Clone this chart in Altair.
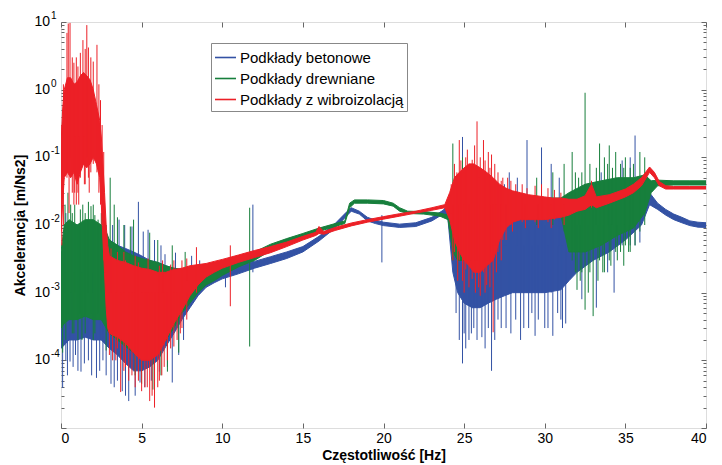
import altair as alt
import pandas as pd

FONT = "Liberation Sans"
NAMES = ["Podkłady betonowe", "Podkłady drewniane", "Podkłady z wibroizolacją"]
COLORS = ["#3352a4", "#177f3c", "#ec2027"]

# ---- dense noise bands: frequency [Hz], lower / upper envelope ----
blue_f = [0.0, 0.5, 1.0, 1.5, 2.0, 2.5, 3.0, 3.5, 4.0, 4.5, 5.0, 5.5, 6.0, 6.5, 7.0, 7.5, 8.0, 8.5,
          9.0, 9.5, 10.0, 11.0, 12.0, 13.0, 14.0, 15.0, 16.0, 17.0, 17.7, 18.0, 18.5, 19.0, 19.5,
          20.0, 21.0, 22.0, 23.0, 23.7, 24.0, 24.3, 24.6, 25.0, 25.5, 26.0, 26.5, 27.0, 27.5, 28.0,
          29.0, 30.0, 31.0, 31.5, 32.0, 33.0, 34.0, 35.0, 36.0, 36.5, 37.0, 37.5, 38.0, 38.5, 39.0,
          39.5, 40.0]
blue_lo = [1.5e-4, 2e-4, 2e-4, 2.2e-4, 2e-4, 2e-4, 1.5e-4, 1.2e-4, 9e-5, 7e-5, 7e-5, 8e-5, 1e-4,
           1.6e-4, 2.5e-4, 4e-4, 6e-4, 9e-4, 1.2e-3, 1.4e-3, 1.6e-3, 1.9e-3, 2.3e-3, 2.7e-3, 3.2e-3,
           4e-3, 5.8e-3, 9e-3, 0.0135, 0.016, 0.0145, 0.0115, 0.0105, 0.0098, 0.0092, 0.0095, 0.0115,
           0.0145, 0.012, 0.002, 1e-3, 7e-4, 6e-4, 6e-4, 7e-4, 8e-4, 9e-4, 1e-3, 1e-3, 1e-3, 1.1e-3,
           1.5e-3, 2e-3, 3e-3, 4e-3, 6e-3, 0.01, 0.02, 0.017, 0.014, 0.012, 0.0108, 0.0098, 0.0093,
           0.0092]
blue_hi = [3e-3, 0.01, 0.01, 0.01, 0.01, 8e-3, 6e-3, 5e-3, 4.5e-3, 4e-3, 3.5e-3, 3e-3, 2.8e-3,
           2.5e-3, 2.3e-3, 2.2e-3, 2.1e-3, 2.1e-3, 2.1e-3, 2.2e-3, 2.3e-3, 2.6e-3, 2.9e-3, 3.4e-3,
           4e-3, 4.8e-3, 6.8e-3, 0.0105, 0.0155, 0.018, 0.016, 0.013, 0.0118, 0.011, 0.0103, 0.0108,
           0.013, 0.0165, 0.02, 0.03, 0.03, 0.03, 0.025, 0.02, 0.02, 0.018, 0.016, 0.015, 0.015,
           0.015, 0.015, 0.016, 0.02, 0.025, 0.03, 0.035, 0.035, 0.03, 0.021, 0.017, 0.0145, 0.013,
           0.0115, 0.011, 0.0108]

green_f = [0.0, 0.2, 0.5, 1.0, 1.5, 2.0, 2.5, 2.8, 3.0, 3.5, 4.0, 4.5, 5.0, 5.5, 6.0, 6.5, 7.0, 7.5,
           8.0, 8.5, 9.0, 9.5, 10.0, 11.0, 12.0, 13.0, 14.0, 15.0, 16.0, 17.0, 17.6, 17.9, 18.2,
           19.0, 20.0, 20.6, 21.0, 21.5, 22.5, 23.5, 24.0, 24.3, 24.6, 25.0, 25.4, 26.0, 27.0, 28.0,
           29.0, 30.0, 31.0, 31.5, 32.5, 33.5, 34.5, 35.5, 36.2, 36.6, 37.0, 38.0, 39.0, 40.0]
green_lo = [3e-4, 3.5e-4, 4e-4, 4e-4, 4.5e-4, 4e-4, 4e-4, 3e-4, 2.5e-4, 2e-4, 1.6e-4, 1.3e-4,
            1.1e-4, 1.1e-4, 1.4e-4, 2e-4, 3e-4, 5e-4, 7e-4, 1e-3, 1.3e-3, 1.5e-3, 1.8e-3, 2.4e-3,
            3e-3, 4.2e-3, 5.2e-3, 6.5e-3, 8e-3, 9.5e-3, 0.0105, 0.018, 0.021, 0.021, 0.0205, 0.019,
            0.016, 0.0148, 0.0145, 0.0135, 0.012, 0.004, 0.003, 0.003, 0.01, 0.014, 0.014, 0.014,
            0.014, 0.014, 0.014, 0.004, 0.004, 0.005, 0.007, 0.009, 0.015, 0.03, 0.038, 0.039,
            0.039, 0.039]
green_hi = [4e-3, 0.01, 0.012, 0.01, 0.012, 0.012, 0.01, 8e-3, 6e-3, 5e-3, 4e-3, 3.5e-3, 3.2e-3,
            3e-3, 2.8e-3, 2.5e-3, 2.3e-3, 2.2e-3, 2.2e-3, 2.2e-3, 2.3e-3, 2.5e-3, 2.8e-3, 3.4e-3,
            4e-3, 5.2e-3, 6.3e-3, 7.5e-3, 9e-3, 0.0105, 0.0115, 0.021, 0.0235, 0.0235, 0.023, 0.021,
            0.018, 0.016, 0.0158, 0.015, 0.014, 0.03, 0.04, 0.04, 0.03, 0.025, 0.025, 0.025, 0.025,
            0.025, 0.025, 0.03, 0.04, 0.045, 0.05, 0.05, 0.055, 0.045, 0.046, 0.045, 0.045, 0.045]

red_f = [0.0, 0.1, 0.2, 0.4, 0.6, 0.8, 1.0, 1.2, 1.4, 1.6, 1.8, 2.0, 2.2, 2.4, 2.5, 2.6, 2.7, 2.8,
         2.9, 3.0, 3.5, 4.0, 4.5, 5.0, 5.5, 6.0, 6.5, 7.0, 7.5, 8.0, 8.5, 9.0, 9.5, 10.0, 11.0, 12.0,
         13.0, 14.0, 15.0, 15.8, 16.0, 16.3, 17.0, 18.0, 19.0, 20.0, 21.0, 22.0, 23.0, 23.8, 24.1,
         24.4, 24.7, 25.0, 25.3, 25.6, 26.0, 26.4, 26.8, 27.2, 27.6, 28.0, 28.5, 29.0, 29.5, 30.0,
         30.5, 31.0, 31.5, 32.0, 32.5, 32.9, 33.2, 34.0, 35.0, 35.5, 36.0, 36.5, 36.8, 37.1, 37.5,
         38.0, 39.0, 40.0]
red_lo = [0.008, 0.02, 0.05, 0.06, 0.05, 0.06, 0.04, 0.06, 0.08, 0.07, 0.08, 0.1, 0.08, 0.05, 0.02,
          0.006, 0.002, 6e-4, 3e-4, 2.5e-4, 2.2e-4, 1.8e-4, 1.3e-4, 1e-4, 1e-4, 1.2e-4, 2e-4,
          3.5e-4, 5.5e-4, 9e-4, 1.3e-3, 1.7e-3, 2e-3, 2.3e-3, 2.8e-3, 3.3e-3, 3.9e-3, 4.8e-3, 6e-3,
          7e-3, 7.5e-3, 7.3e-3, 8.3e-3, 9.7e-3, 0.011, 0.0122, 0.0135, 0.015, 0.0165, 0.018, 0.012,
          0.006, 0.004, 0.003, 0.0025, 0.002, 0.002, 0.0025, 0.003, 0.006, 0.009, 0.011, 0.012,
          0.012, 0.012, 0.012, 0.0125, 0.013, 0.014, 0.016, 0.017, 0.02, 0.018, 0.021, 0.026, 0.03,
          0.038, 0.06, 0.05, 0.038, 0.034, 0.034, 0.034, 0.034]
red_hi = [0.15, 0.5, 1.0, 1.5, 1.5, 1.2, 1.3, 1.6, 1.8, 1.6, 1.4, 1.0, 0.6, 0.35, 0.2, 0.08, 0.03,
          0.01, 5e-3, 3.5e-3, 3e-3, 2.8e-3, 2.5e-3, 2.3e-3, 2.2e-3, 2e-3, 2e-3, 2.2e-3, 2.3e-3,
          2.5e-3, 2.6e-3, 2.7e-3, 2.9e-3, 3.1e-3, 3.6e-3, 4.2e-3, 4.8e-3, 5.6e-3, 6.8e-3, 7.8e-3,
          9.5e-3, 8e-3, 9.2e-3, 0.0107, 0.012, 0.0133, 0.0147, 0.016, 0.018, 0.02, 0.03, 0.05, 0.06,
          0.07, 0.08, 0.08, 0.07, 0.06, 0.05, 0.04, 0.035, 0.032, 0.03, 0.028, 0.027, 0.026, 0.025,
          0.025, 0.024, 0.024, 0.027, 0.04, 0.026, 0.028, 0.034, 0.04, 0.05, 0.072, 0.06, 0.044,
          0.038, 0.037, 0.037, 0.037]

# ---- individual spikes: frequency, from, to ----
blue_sf = [0.1, 0.3, 0.56, 0.9, 1.24, 1.7, 2.2, 2.6, 3.1, 3.5, 3.8, 4.2, 4.4, 4.8, 4.9, 5.4, 5.6,
           6.1, 6.45, 6.9, 7.1, 7.6, 8.1, 10.2, 11.9, 19.9, 24.5, 24.9, 25.1, 25.3, 25.6, 26.1, 26.7,
           27.3, 27.8, 27.9, 28.5, 28.9, 29.0, 29.4, 29.8, 30.0, 30.4, 30.5, 31.0, 31.3, 32.3, 33.2,
           33.5, 33.9, 34.3, 34.8, 35.3, 35.6, 35.9]
blue_slo = [3.9e-5, 1e-4, 9.6e-5, 1.2e-4, 6.8e-5, 1e-4, 5.5e-5, 1e-4, 4.5e-5, 5e-5, 3.5e-5, 2.5e-5,
            1e-3, 1e-3, 4.7e-5, 1e-3, 5e-5, 6.8e-5, 1e-3, 4.7e-5, 1e-3, 2e-4, 1e-3, 1.2e-3, 2e-3,
            2.8e-3, 5e-4, 9e-5, 1.5e-4, 2e-4, 3e-4, 2.2e-4, 7e-5, 3e-4, 1e-3, 2.5e-4, 2e-4, 1e-3,
            3e-4, 2.3e-4, 1e-3, 3e-4, 1e-3, 2.3e-4, 4e-4, 3.5e-4, 8e-4, 6e-4, 0.005, 2e-3, 1e-3,
            0.005, 0.005, 0.005, 5.5e-3]
blue_shi = [3e-3, 0.015, 1e-3, 1e-3, 1e-3, 1e-3, 1e-3, 1e-3, 1e-3, 1e-3, 1e-3, 1e-3, 9.5e-3, 0.022,
            1e-3, 8.5e-3, 1e-3, 1e-3, 3.7e-3, 1e-3, 3.9e-3, 1e-3, 3.5e-3, 2.3e-3, 0.02, 0.014, 0.02,
            0.2, 0.01, 0.01, 0.01, 0.01, 0.01, 0.01, 0.06, 0.01, 0.01, 0.18, 0.01, 0.01, 0.14, 0.01,
            0.08, 0.01, 0.01, 0.01, 0.02, 0.02, 0.06, 0.02, 0.02, 0.09, 0.1, 0.21, 0.02]
blue_sf2 = [24.7, 25.0, 25.45, 25.8, 26.3, 26.5, 26.9, 27.1, 27.6, 28.2, 28.7, 29.2, 29.6, 30.2,
            30.8, 31.1, 25.5, 26.3, 27.5, 28.3, 30.9, 0.4, 0.75, 1.05, 1.45, 1.9, 2.4, 2.8, 3.3,
            4.0, 4.6, 5.2, 5.8, 6.6, 7.3, 3.2, 3.6, 3.95, 5.1, 5.8, 6.2, 8.6, 9.2]
blue_slo2 = [2e-4, 2.5e-4, 2.5e-4, 2e-4, 1.5e-4, 3e-4, 2e-4, 4e-4, 3e-4, 4e-4, 3e-4, 5e-4, 4e-4,
             3e-4, 5e-4, 3e-4, 0.005, 0.005, 0.005, 0.005, 0.005, 6e-5, 8e-5, 7e-5, 9e-5, 6e-5,
             7e-5, 6e-5, 4e-5, 3e-5, 3e-5, 4e-5, 5e-5, 8e-5, 1.2e-4, 1e-3, 1e-3, 1e-3, 1e-3, 1e-3,
             1e-3, 1.5e-3, 1.5e-3]
blue_shi2 = [0.005, 0.005, 0.005, 0.005, 0.005, 0.005, 0.005, 0.005, 0.005, 0.005, 0.005, 0.005,
             0.005, 0.005, 0.005, 0.005, 0.05, 0.04, 0.04, 0.05, 0.05, 1e-3, 1e-3, 1e-3, 1e-3, 1e-3,
             1e-3, 1e-3, 1e-3, 1e-3, 1e-3, 1e-3, 1e-3, 1e-3, 1e-3, 0.01, 0.012, 0.01, 0.008, 0.006,
             0.005, 3e-3, 2.8e-3]

green_sf = [0.1, 0.43, 0.7, 1.05, 1.2, 1.5, 1.86, 2.1, 2.3, 2.8, 3.05, 3.3, 3.5, 3.9, 4.3, 4.5, 4.6,
            5.0, 5.5, 5.7, 6.0, 6.2, 6.6, 6.9, 7.3, 7.7, 11.7, 24.3, 24.6, 24.9, 25.3, 29.5, 30.5,
            31.2, 31.7, 32.0, 32.3, 32.5, 32.8, 33.0, 33.4, 33.7, 34.0, 34.4, 34.7, 35.0, 35.3, 35.9,
            36.2]
green_slo = [1.3e-4, 5e-4, 2.5e-4, 2e-4, 5e-4, 2.5e-4, 5e-4, 2.5e-4, 5e-4, 1.4e-4, 1e-3, 3e-4,
             1e-3, 2e-4, 1e-3, 1e-3, 6e-5, 4.5e-5, 1e-3, 3.7e-5, 1e-3, 6e-5, 6.8e-5, 1e-3, 1.3e-4,
             1e-3, 1.6e-4, 0.003, 0.002, 0.004, 0.005, 0.01, 0.01, 0.008, 0.003, 1.1e-3, 0.002,
             5.6e-4, 0.002, 4.5e-4, 0.003, 0.002, 0.003, 0.004, 0.004, 0.005, 0.004, 0.008, 0.01]
green_shi = [3e-3, 0.03, 0.015, 0.01, 0.017, 0.015, 0.019, 0.014, 0.012, 0.01, 0.05, 0.02, 0.013,
             0.01, 0.0095, 0.012, 1e-3, 1e-3, 7.7e-3, 1e-3, 6e-3, 1e-3, 1e-3, 5e-3, 1e-3, 4e-3,
             0.018, 0.16, 0.05, 0.1, 0.07, 0.05, 0.06, 0.08, 0.12, 0.01, 0.06, 0.9, 0.08, 0.02, 0.16,
             0.1, 0.15, 0.12, 0.08, 0.1, 0.07, 0.12, 0.1]
green_sf2 = [31.9, 32.2, 32.7, 33.3, 33.6, 34.1, 34.5, 34.9, 35.2, 35.6, 31.9, 32.1, 33.2, 33.9,
             34.2, 34.9, 35.5, 0.25, 0.6, 0.85, 1.35, 1.7, 2.0, 2.5, 0.3, 0.8, 1.3, 2.0]
green_slo2 = [2e-3, 1.5e-3, 1e-3, 1.5e-3, 2e-3, 2.5e-3, 3e-3, 2.5e-3, 4e-3, 5e-3, 0.01, 0.01, 0.01,
              0.01, 0.01, 0.01, 0.01, 1e-3, 1e-3, 1e-3, 1e-3, 1e-3, 1e-3, 1e-3, 2e-4, 2.5e-4, 2e-4,
              2e-4]
green_shi2 = [0.01, 0.01, 0.01, 0.01, 0.01, 0.01, 0.01, 0.01, 0.01, 0.01, 0.06, 0.05, 0.07, 0.08,
              0.07, 0.07, 0.08, 0.02, 0.02, 0.02, 0.02, 0.022, 0.02, 0.015, 2e-3, 2e-3, 2e-3, 2e-3]

red_sf = [0.05, 0.15, 0.37, 0.45, 0.56, 0.7, 0.8, 0.95, 1.05, 1.2, 1.36, 1.5, 1.6, 1.7, 1.85, 2.0,
          2.23, 2.35, 2.45, 2.55, 2.65, 0.5, 0.85, 1.1, 1.45, 1.75, 3.2, 3.5, 3.7, 4.0, 4.4, 4.8,
          5.2, 5.5, 5.8, 6.1, 6.4, 6.8, 7.2, 7.5, 8.4, 10.5, 24.4, 24.7, 24.9, 25.1, 25.5, 25.8,
          25.9, 26.2, 26.4, 26.5, 26.7, 26.8, 27.1, 27.4, 27.9, 28.6, 29.4, 30.2, 32.9]
red_slo = [0.005, 0.01, 0.05, 0.1, 0.1, 0.03, 0.02, 0.02, 0.03, 0.05, 0.08, 0.04, 0.1, 0.05, 0.06,
           0.08, 0.06, 0.03, 0.02, 0.01, 0.003, 0.015, 0.03, 0.02, 0.04, 0.03, 1e-4, 1.5e-4, 3.4e-5,
           8e-5, 6e-5, 5e-5, 4e-5, 2.5e-5, 2e-5, 5e-5, 8e-5, 1.5e-4, 2e-4, 3e-4, 1e-3, 6.3e-4,
           0.004, 0.003, 0.0015, 0.0022, 0.0016, 0.003, 0.0012, 0.002, 0.0013, 0.003, 0.005, 2.6e-4,
           0.004, 0.006, 0.01, 0.011, 0.011, 0.011, 0.018]
red_shi = [0.3, 1.2, 6.9, 9.5, 9.7, 3.0, 2.5, 3.0, 2.2, 3.5, 5.4, 4.0, 9.0, 4.2, 3.0, 2.6, 4.6, 1.2,
           0.7, 0.3, 0.12, 0.2, 0.2, 0.2, 0.2, 0.3, 3e-3, 4e-3, 1e-3, 3e-3, 1e-3, 2.8e-3, 1e-3,
           1e-3, 1e-3, 2.5e-3, 1e-3, 2.6e-3, 1e-3, 3e-3, 4.7e-3, 5e-3, 0.08, 0.18, 0.05, 0.1, 0.092,
           0.34, 0.05, 0.18, 0.05, 0.12, 0.11, 0.02, 0.06, 0.05, 0.045, 0.04, 0.038, 0.035, 0.045]
red_sf2 = [24.2, 24.55, 24.8, 25.0, 25.2, 25.4, 25.65, 26.0, 26.3, 26.6, 26.9, 27.3, 27.7, 28.2,
           28.9, 29.8, 30.6, 31.0, 24.3, 24.6, 25.0, 25.3, 25.7, 26.0, 26.3, 26.6, 27.0, 27.3, 27.6,
           28.0, 28.8, 29.6, 30.4, 31.2, 3.0, 3.4, 3.9, 4.2, 4.6, 5.0, 5.35, 5.65, 6.0, 6.25, 6.6,
           7.0, 7.4, 7.8, 3.1, 3.9, 4.6, 5.4, 6.3, 7.0, 7.8]
red_slo2 = [0.015, 0.005, 0.004, 0.003, 0.003, 0.003, 0.003, 0.003, 0.003, 0.004, 0.005, 0.007,
            0.01, 0.012, 0.012, 0.012, 0.012, 0.013, 0.003, 0.0015, 0.001, 0.0012, 0.001, 0.0009,
            0.001, 0.0012, 0.002, 0.003, 0.006, 0.008, 0.009, 0.009, 0.009, 0.01, 1.2e-4, 1e-4,
            7e-5, 5e-5, 4e-5, 3.5e-5, 4e-5, 3e-5, 4e-5, 6e-5, 1e-4, 1.6e-4, 2.5e-4, 4e-4, 1e-3,
            1e-3, 1e-3, 1e-3, 1e-3, 1e-3, 1.5e-3]
red_shi2 = [0.04, 0.06, 0.09, 0.06, 0.13, 0.07, 0.15, 0.1, 0.09, 0.07, 0.08, 0.045, 0.05, 0.04,
            0.035, 0.04, 0.033, 0.03, 0.02, 0.02, 0.02, 0.02, 0.02, 0.02, 0.02, 0.02, 0.02, 0.02,
            0.02, 0.02, 0.02, 0.02, 0.02, 0.02, 1e-3, 1e-3, 1e-3, 1e-3, 1e-3, 1e-3, 1e-3, 1e-3,
            1e-3, 1e-3, 1e-3, 1e-3, 1e-3, 1e-3, 4.5e-3, 4e-3, 3.5e-3, 3.2e-3, 3e-3, 3e-3, 3.2e-3]

X_TICKS = [0, 5, 10, 15, 20, 25, 30, 35, 40]
Y_MAJOR = [1e-5, 1e-4, 1e-3, 1e-2, 1e-1, 1, 10]
Y_LABEL_VALUES = [10, 1, 0.1, 0.01, 0.001, 0.0001]
Y_LABEL_EXP = ["1", "0", "-1", "-2", "-3", "-4"]
Y_MINOR = [m * 10.0 ** e for e in range(-5, 1) for m in range(2, 10)]

xs = alt.Scale(domain=[0, 40], nice=False, zero=False)
ys = alt.Scale(type="log", domain=[1e-5, 10], nice=False)
TICKC = "#666666"

ax_bottom = alt.Axis(orient="bottom", values=X_TICKS, offset=-5, tickSize=5, domain=False,
                     grid=False, labelPadding=3, labelFontSize=14, labelFont=FONT,
                     labelColor="black", tickColor=TICKC, title="Częstotliwość [Hz]",
                     titleFont=FONT, titleFontSize=14, titleFontWeight="bold",
                     titleColor="black", titlePadding=3)
ax_top = alt.Axis(orient="top", values=X_TICKS, offset=-5, tickSize=5, domain=False,
                  labels=False, grid=False, tickColor=TICKC, title=None)
ay_left = alt.Axis(orient="left", values=Y_MAJOR, offset=-5, tickSize=5, domain=False,
                   labels=False, grid=False, tickColor=TICKC, title="Akcelerancja [m/Ns2]",
                   titleFont=FONT, titleFontSize=14, titleFontWeight="bold", titleColor="black",
                   titleX=-46, titleY=203, titleAlign="center", titleBaseline="middle")
ay_left_min = alt.Axis(orient="left", values=Y_MINOR, offset=-3, tickSize=3, domain=False,
                       labels=False, grid=False, tickColor=TICKC, title=None)
ay_right = alt.Axis(orient="right", values=Y_MAJOR, offset=-5, tickSize=5, domain=False,
                    labels=False, grid=False, tickColor=TICKC, title=None)
ay_right_min = alt.Axis(orient="right", values=Y_MINOR, offset=-3, tickSize=3, domain=False,
                        labels=False, grid=False, tickColor=TICKC, title=None)

legend = alt.Legend(orient="none", legendX=150, legendY=21, title=None, symbolType="stroke",
                    symbolSize=441, symbolStrokeWidth=1.6, labelFont=FONT, labelFontSize=15,
                    labelColor="black", labelLimit=400, padding=3, strokeColor="#888888",
                    fillColor="white", rowPadding=1, labelOffset=3)
color_enc = alt.Color("series:N", scale=alt.Scale(domain=NAMES, range=COLORS), legend=legend)


def band(f, lo, hi, color, xaxis, yaxis):
    df = pd.DataFrame({"f": f, "lo": lo, "hi": hi})
    return alt.Chart(df).mark_area(color=color, stroke=color, strokeWidth=1, opacity=1,
                                   clip=True).encode(
        x=alt.X("f:Q", scale=xs, axis=xaxis),
        y=alt.Y("lo:Q", scale=ys, axis=yaxis),
        y2="hi:Q",
    )


def spikes(f, lo, hi, name, xaxis, yaxis):
    df = pd.DataFrame({"f": f, "lo": lo, "hi": hi, "series": name})
    return alt.Chart(df).mark_rule(strokeWidth=1, clip=True).encode(
        x=alt.X("f:Q", scale=xs, axis=xaxis),
        y=alt.Y("lo:Q", scale=ys, axis=yaxis),
        y2="hi:Q",
        color=color_enc,
    )


lab_df = pd.DataFrame({"v": Y_LABEL_VALUES, "base": ["10"] * len(Y_LABEL_VALUES),
                       "exp": Y_LABEL_EXP})
lab_base = alt.Chart(lab_df).mark_text(align="right", baseline="middle", font=FONT, fontSize=14,
                                       color="black").encode(
    x=alt.value(-11), y=alt.Y("v:Q", scale=ys, axis=None), text="base:N")
lab_exp = alt.Chart(lab_df).mark_text(align="left", baseline="middle", font=FONT, fontSize=10,
                                      color="black", dy=-6).encode(
    x=alt.value(-10), y=alt.Y("v:Q", scale=ys, axis=None), text="exp:N")

chart = alt.layer(
    band(blue_f, blue_lo, blue_hi, COLORS[0], ax_bottom, ay_left),
    spikes(blue_sf + blue_sf2, blue_slo + blue_slo2, blue_shi + blue_shi2, NAMES[0],
           ax_top, ay_left_min),
    band(green_f, green_lo, green_hi, COLORS[1], None, ay_right),
    spikes(green_sf + green_sf2, green_slo + green_slo2, green_shi + green_shi2, NAMES[1],
           None, ay_right_min),
    band(red_f, red_lo, red_hi, COLORS[2], None, None),
    spikes(red_sf + red_sf2, red_slo + red_slo2, red_shi + red_shi2, NAMES[2], None, None),
    lab_base,
    lab_exp,
).resolve_axis(x="independent", y="independent").properties(
    width=645, height=406,
    autosize=alt.AutoSizeParams(type="none"),
    padding={"left": 53, "top": 14, "right": 8, "bottom": 35},
).configure_view(stroke="#808080", strokeWidth=1).configure(background="white")

chart.save("out.html", embed_options={"renderer": "svg", "actions": False})
